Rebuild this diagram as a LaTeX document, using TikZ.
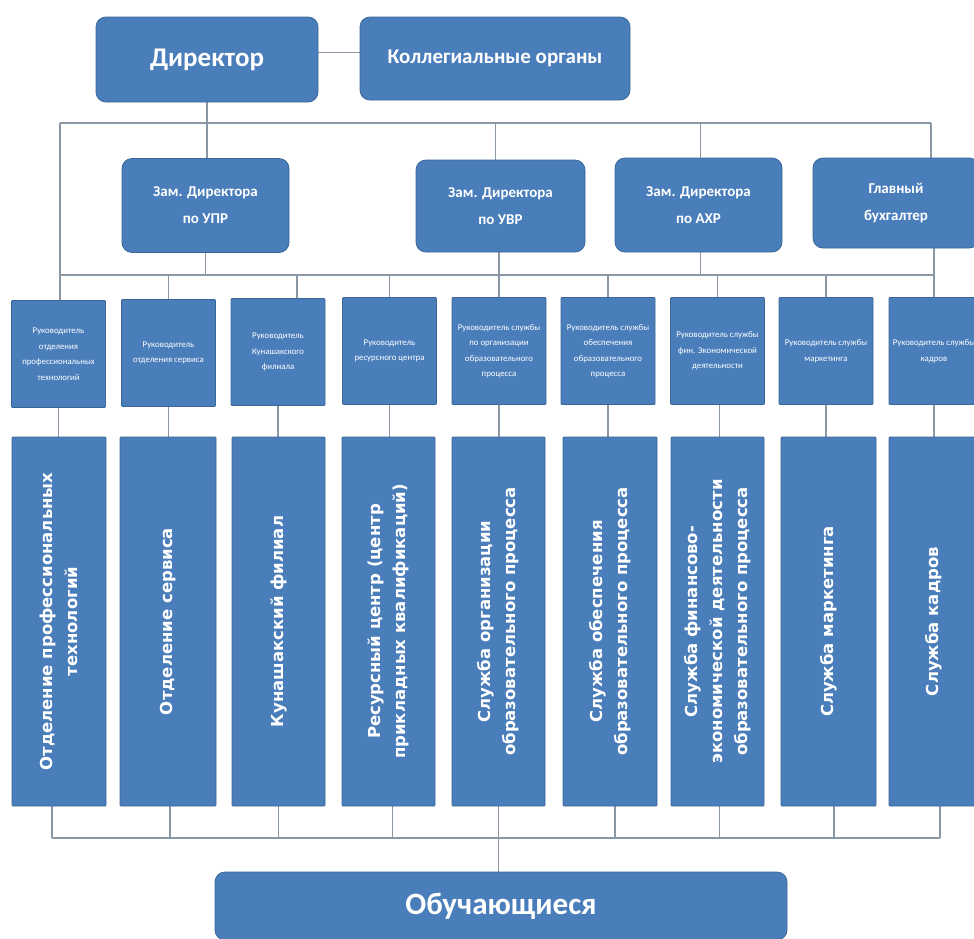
\documentclass[tikz,border=0pt]{standalone}
\usepackage{fontspec}
\setmainfont{Carlito}
\newfontfamily\vfont{DejaVu Sans}
\usetikzlibrary{backgrounds}
\definecolor{boxfill}{HTML}{4A7EBB}
\definecolor{boxline}{HTML}{3A6798}
\definecolor{connc}{HTML}{8A97A4}
\begin{document}
\begin{tikzpicture}[x=1pt,y=-1pt,
  topbox/.style={draw=boxline, fill=boxfill, rounded corners=10pt, text=white, align=center, inner sep=0pt, line width=0.8pt},
  midbox/.style={draw=boxline, fill=boxfill, rounded corners=1pt, text=white, align=center, font=\fontsize{8.8}{15.5}\selectfont, inner sep=0pt, line width=0.8pt, minimum width=94pt, minimum height=107pt},
  tallbox/.style={draw=boxline, fill=boxfill, rounded corners=1pt, text=white, align=center, font=\vfont\bfseries\fontsize{16.5}{25}\selectfont, inner sep=0pt, line width=0.8pt, rotate=90, minimum width=369pt, minimum height=94pt},
  conn/.style={draw=connc, line width=1.4pt}]
\useasboundingbox (0,0) rectangle (974,938);
\clip (0,0) rectangle (974,938);
% top level
\node[topbox, minimum width=222pt, minimum height=85pt, font=\bfseries\fontsize{27}{32}\selectfont] (dir) at (207,59.5) {Директор};
\node[topbox, minimum width=270pt, minimum height=83pt, font=\bfseries\fontsize{21}{25}\selectfont] (koll) at (495,58.5) {Коллегиальные органы};
% deputies
\tikzset{zam/.style={topbox, minimum width=167pt, minimum height=94pt, font=\bfseries\fontsize{15}{27}\selectfont}}
\node[zam] (zupr) at (205.5,205.5) {Зам. Директора\\по УПР};
\node[zam, minimum width=169pt, minimum height=92pt] (zuvr) at (500.5,206) {Зам. Директора\\по УВР};
\node[zam] (zahr) at (698.5,205) {Зам. Директора\\по АХР};
\node[zam, minimum width=166pt, minimum height=90pt] (gb) at (896,203) {Главный\\бухгалтер};
% heads
\node[midbox] (m1) at (58.5,354) {Руководитель\\отделения\\профессиональных\\технологий};
\node[midbox] (m2) at (168.5,353) {Руководитель\\отделения сервиса};
\node[midbox] (m3) at (278,352) {Руководитель\\Кунашакского\\филиала};
\node[midbox] (m4) at (389.5,351) {Руководитель\\ресурсного центра};
\node[midbox] (m5) at (499,351) {Руководитель службы\\по организации\\образовательного\\процесса};
\node[midbox] (m6) at (608,351) {Руководитель службы\\обеспечения\\образовательного\\процесса};
\node[midbox] (m7) at (717.5,351) {Руководитель службы\\фин. Экономической\\деятельности};
\node[midbox] (m8) at (826,351) {Руководитель службы\\маркетинга};
\node[midbox, minimum width=90pt] (m9) at (934,351) {Руководитель службы\\кадров};
% departments
\node[tallbox] (t1) at (59,621.5) {Отделение профессиональных\\технологий};
\node[tallbox, minimum height=96pt] (t2) at (168,621.5) {Отделение сервиса};
\node[tallbox, minimum height=93pt] (t3) at (278.5,621.5) {Кунашакский филиал};
\node[tallbox, minimum height=93pt] (t4) at (388.5,621.5) {Ресурсный центр (центр\\прикладных квалификаций)};
\node[tallbox, minimum height=93pt] (t5) at (498.5,621.5) {Служба организации\\образовательного процесса};
\node[tallbox] (t6) at (610,621.5) {Служба обеспечения\\образовательного процесса};
\node[tallbox, minimum height=93pt] (t7) at (717.5,621.5) {Служба финансово-\\экономической деятельности\\образовательного процесса};
\node[tallbox, minimum height=95pt] (t8) at (828.5,621.5) {Служба маркетинга};
\node[tallbox, minimum height=90pt] (t9) at (934,621.5) {Служба кадров};
% students
\node[topbox, minimum width=572pt, minimum height=68pt, font=\bfseries\fontsize{31}{36}\selectfont] (obu) at (501,906) {Обучающиеся};
% bus coordinates
\coordinate (tL) at (60,123);
\coordinate (tR) at (931,123);
\coordinate (mL) at (60,275);
\coordinate (mR) at (934,275);
\coordinate (bL) at (52,838);
\coordinate (bR) at (940,838);
\begin{pgfonlayer}{background}
\fill[white] (0,0) rectangle (974,938);
% top connectors
\draw[conn] ([yshift=7pt]dir.east) -- ([yshift=7pt]dir.east -| koll.west);
\draw[conn] (dir.south) -- (dir.south |- zupr.north);
\draw[conn] (tL) -- (tR);
\draw[conn] (tL) -- (m1.north -| tL);
\draw[conn] (tR) -- (gb.north -| tR);
\draw[conn] ([xshift=-5pt]zuvr.north) -- ([xshift=-5pt]zuvr.north |- tL);
\draw[conn] ([xshift=2pt]zahr.north) -- ([xshift=2pt]zahr.north |- tL);
% middle bus
\draw[conn] (mL) -- (mR);
\draw[conn] (zupr.south) -- (zupr.south |- mL);
\draw[conn] (zuvr.south -| m5.north) -- (m5.north);
\draw[conn] ([xshift=2pt]zahr.south) -- ([xshift=2pt]zahr.south |- mL);
\draw[conn] (gb.south -| mR) -- (m9.north);
\draw[conn] (m2.north) -- (m2.north |- mL);
\draw[conn] ([xshift=19pt]m3.north) -- ([xshift=19pt]m3.north |- mL);
\draw[conn] (m4.north) -- (m4.north |- mL);
\draw[conn] (m6.north) -- (m6.north |- mL);
\draw[conn] (m7.north) -- (m7.north |- mL);
\draw[conn] (m8.north) -- (m8.north |- mL);
% heads to departments
\draw[conn] (m1.south) -- (m1.south |- t1.east);
\draw[conn] (m2.south) -- (m2.south |- t2.east);
\draw[conn] (m3.south) -- (m3.south |- t3.east);
\draw[conn] (m4.south) -- (m4.south |- t4.east);
\draw[conn] (m5.south) -- (m5.south |- t5.east);
\draw[conn] (m6.south) -- (m6.south |- t6.east);
\draw[conn] ([xshift=2pt]m7.south) -- ([xshift=2pt]m7.south |- t7.east);
\draw[conn] (m8.south) -- (m8.south |- t8.east);
\draw[conn] (m9.south) -- (m9.south |- t9.east);
% bottom bus
\draw[conn] (bL) -- (bR);
\draw[conn] ([xshift=-7pt]t1.west) -- ([xshift=-7pt]t1.west |- bL);
\draw[conn] ([xshift=2pt]t2.west) -- ([xshift=2pt]t2.west |- bL);
\draw[conn] (t3.west) -- (t3.west |- bL);
\draw[conn] ([xshift=4pt]t4.west) -- ([xshift=4pt]t4.west |- bL);
\draw[conn] (t5.west) -- (t5.west |- obu.north);
\draw[conn] ([xshift=5pt]t6.west) -- ([xshift=5pt]t6.west |- bL);
\draw[conn] ([xshift=2pt]t7.west) -- ([xshift=2pt]t7.west |- bL);
\draw[conn] ([xshift=5.5pt]t8.west) -- ([xshift=5.5pt]t8.west |- bL);
\draw[conn] ([xshift=6pt]t9.west) -- ([xshift=6pt]t9.west |- bL);
\end{pgfonlayer}
\end{tikzpicture}
\end{document}
